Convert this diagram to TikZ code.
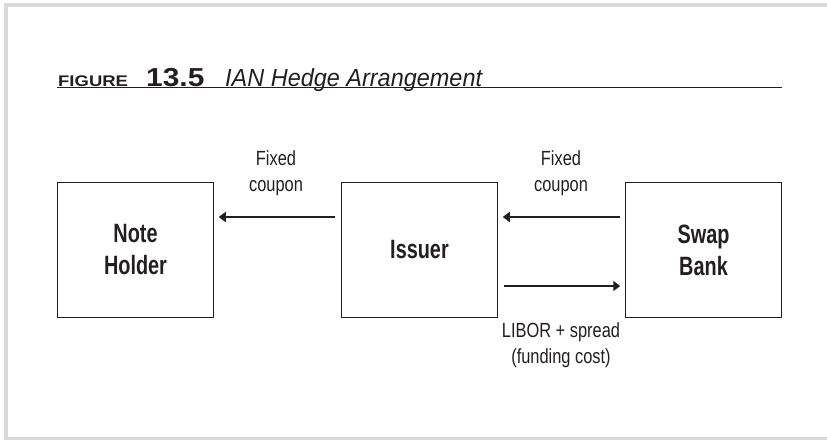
\documentclass[tikz,border=0pt]{standalone}
\usepackage{fontspec}
\setmainfont{Liberation Sans}[FakeStretch=0.75]
\newfontfamily\labfont{Liberation Sans}[FakeStretch=0.8]
\newfontfamily\figfont{Liberation Sans}[FakeStretch=1.2]
\newfontfamily\numfont{Liberation Sans}[FakeStretch=1.15]
\newfontfamily\ttlfont{Liberation Sans}[FakeStretch=0.95]
\usetikzlibrary{arrows.meta}
\definecolor{ink}{HTML}{231F20}
\definecolor{framegray}{HTML}{DADADA}
\tikzset{
  partybox/.style={draw=ink, line width=1.5pt, minimum width=156pt, minimum height=135pt,
    inner sep=0pt, align=center, text=ink, font=\fontsize{26.5}{32}\selectfont\bfseries},
  flowlabel/.style={align=center, text=ink, inner sep=0pt, font=\labfont\fontsize{20.5}{26}\selectfont},
  flowarrow/.style={draw=ink, line width=1.5pt, -{Triangle[length=7pt,width=10pt]}},
}
\begin{document}
\begin{tikzpicture}[x=1pt,y=-1pt]
\useasboundingbox (0,0) rectangle (827,440);
% frame
\fill[framegray] (4,3) rectangle (827,7);
\fill[framegray] (4,3) rectangle (8,440);
\fill[framegray] (4,437) rectangle (827,440);
% title
\node[anchor=base west, inner sep=0pt, text=ink, font=\figfont\fontsize{15.4}{18}\selectfont\bfseries] (figword) at (58,86) {FIGURE};
\node[anchor=base west, inner sep=0pt, text=ink, font=\numfont\fontsize{26}{30}\selectfont\bfseries] (fignum) at (146,86) {13.5};
\node[anchor=base west, inner sep=0pt, text=ink, font=\ttlfont\fontsize{24.7}{30}\selectfont\itshape] (figtitle) at (225,86) {IAN Hedge Arrangement};
\coordinate (ruleL) at (57,87.5);
\coordinate (ruleR) at (782,87.5);
\draw[ink, line width=1.4pt] (ruleL) -- (ruleR);
% boxes
\node[partybox] (holder) at (135.5,250) {Note\\Holder};
\node[partybox] (issuer) at (419.5,250) {Issuer};
\node[partybox] (bank) at (703.5,250) {Swap\\Bank};
% arrows
\draw[flowarrow] ([xshift=-5.5pt,yshift=33pt]issuer.west) -- ([xshift=4.5pt,yshift=33pt]holder.east);
\draw[flowarrow] ([xshift=-4.5pt,yshift=33pt]bank.west) -- ([xshift=4.5pt,yshift=33pt]issuer.east);
\draw[flowarrow] ([xshift=5.5pt,yshift=-36pt]issuer.east) -- ([xshift=-4.5pt,yshift=-36pt]bank.west);
% labels
\node[flowlabel] (lab1) at (276,173.6) {Fixed\\coupon};
\node[flowlabel] (lab2) at (561,173.6) {Fixed\\coupon};
\node[flowlabel] (lab3) at (561,345.3) {LIBOR + spread\\(funding cost)};
\end{tikzpicture}
\end{document}
